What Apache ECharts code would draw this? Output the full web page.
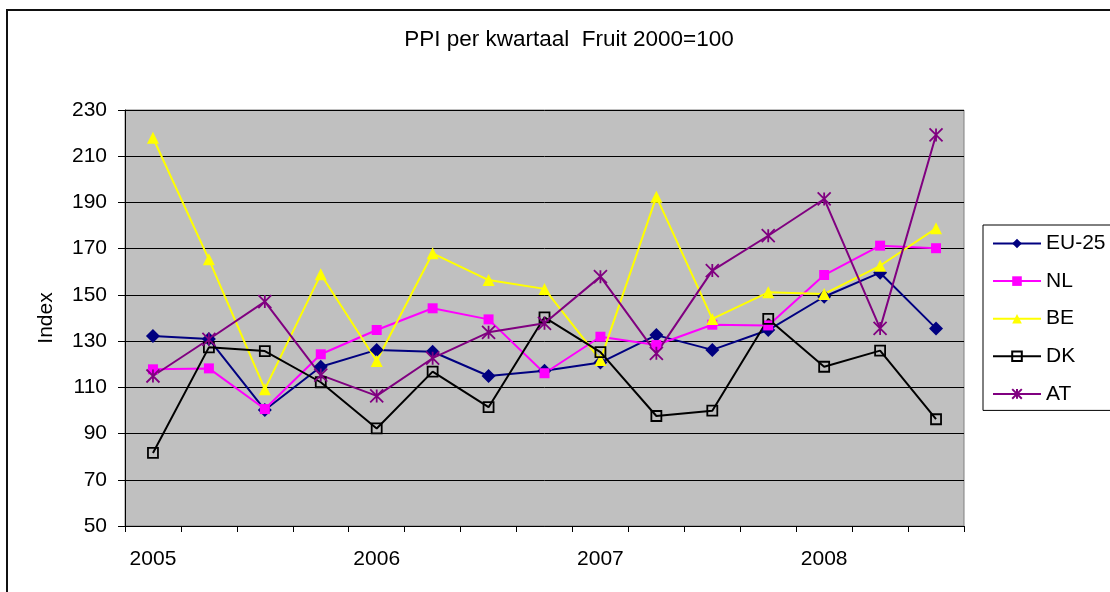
<!DOCTYPE html>
<html>
<head>
<meta charset="utf-8">
<script src="https://cdn.jsdelivr.net/npm/echarts@6/dist/echarts.min.js"></script>
<style>
  html, body { margin: 0; padding: 0; background: #fff; }
  #container { width: 1110px; height: 592px; }
</style>
</head>
<body>
<div id="container"></div>
<script>
// kwartalen 2005 K1 .. 2008 K3
var quarters = ['2005 K1','2005 K2','2005 K3','2005 K4',
                '2006 K1','2006 K2','2006 K3','2006 K4',
                '2007 K1','2007 K2','2007 K3','2007 K4',
                '2008 K1','2008 K2','2008 K3'];
var yTicks = [50, 230, 20]; // min, max, interval

var eu25 = [132.2, 130.9, 100.2, 118.9, 126.2, 125.4, 114.9, 117.2, 120.7, 132.6, 126.2, 134.8, 149.2, 159.6, 135.5];
var nl   = [117.8, 118.2, 100.6, 124.3, 134.8, 144.2, 139.4, 116.1, 131.9, 128.3, 137.1, 136.8, 158.6, 171.3, 170.2];
var be   = [218.0, 165.4, 109.2, 158.9, 121.4, 168.0, 156.4, 152.6, 121.8, 192.5, 139.6, 151.1, 150.4, 162.6, 178.8];
var dk   = [81.6, 127.3, 125.7, 112.2, 92.2, 116.8, 101.4, 140.3, 125.2, 97.6, 99.9, 139.6, 118.9, 125.9, 96.2];
var at   = [114.9, 130.8, 147.1, 115.3, 106.3, 122.6, 133.8, 137.7, 157.9, 124.7, 160.5, 175.6, 191.5, 135.5, 219.2];

var FONT = '"Liberation Sans", Arial, sans-serif';
var asterisk = 'path://M0,0L10,10M10,0L0,10M5,0L5,10';

function main() {
	var myChart = echarts.init(document.getElementById('container'));
	var option = {
		animation: false,
		backgroundColor: '#fff',
		textStyle: { fontFamily: FONT },
		title: {
			text: 'PPI per kwartaal  Fruit 2000=100',
			left: 564,
			textAlign: 'center',
			top: 23,
			textStyle: { fontFamily: FONT, fontSize: 22.5, fontWeight: 'normal', color: '#000' }
		},
		graphic: [{
			type: 'rect',
			shape: { x: 7, y: 10, width: 1300, height: 800 },
			style: { fill: 'none', stroke: '#111', lineWidth: 2 },
			silent: true
		}],
		legend: {
			orient: 'vertical',
			left: 983,
			top: 225,
			padding: [8, 80, 6, 9],
			backgroundColor: '#fff',
			borderColor: '#000',
			borderWidth: 1,
			itemWidth: 48,
			itemHeight: 12,
			itemGap: 16.6,
			textStyle: { fontFamily: FONT, fontSize: 21, color: '#000' },
			data: ['EU-25', 'NL', 'BE', 'DK', 'AT']
		},
		grid: {
			left: 125, top: 110, right: 146, bottom: 66,
			show: true,
			backgroundColor: '#C0C0C0',
			borderColor: '#808080',
			borderWidth: 1
		},
		xAxis: {
			type: 'category',
			data: quarters,
			boundaryGap: true,
			axisLine: { lineStyle: { color: '#000', width: 1 } },
			axisTick: { show: true, interval: 0, length: 6, lineStyle: { color: '#000' } },
			axisLabel: {
				interval: 3,
				margin: 23,
				fontSize: 21,
				color: '#000',
				fontFamily: FONT,
				formatter: function (v) { return v.slice(0, 4); }
			},
			splitLine: { show: false }
		},
		yAxis: {
			type: 'value',
			min: yTicks[0],
			max: yTicks[1],
			interval: yTicks[2],
			name: 'Index',
			nameLocation: 'middle',
			nameGap: 68,
			nameTextStyle: { fontSize: 21, color: '#000', fontFamily: FONT },
			axisLine: { show: true, lineStyle: { color: '#000', width: 1 } },
			axisTick: { show: true, length: 7, lineStyle: { color: '#000' } },
			axisLabel: { margin: 18, fontSize: 21, color: '#000', fontFamily: FONT },
			splitLine: { show: true, lineStyle: { color: '#000', width: 1 } }
		},
		series: [{
			name: 'EU-25', type: 'line', data: eu25,
			symbol: 'diamond', symbolSize: 14,
			lineStyle: { color: '#000080', width: 2 },
			itemStyle: { color: '#000080' }
		}, {
			name: 'NL', type: 'line', data: nl,
			symbol: 'rect', symbolSize: 10,
			lineStyle: { color: '#FF00FF', width: 2 },
			itemStyle: { color: '#FF00FF' }
		}, {
			name: 'BE', type: 'line', data: be,
			symbol: 'triangle', symbolSize: 12,
			lineStyle: { color: '#FFFF00', width: 2 },
			itemStyle: { color: '#FFFF00' }
		}, {
			name: 'DK', type: 'line', data: dk,
			symbol: 'rect', symbolSize: 10,
			lineStyle: { color: '#000', width: 2 },
			itemStyle: { color: 'rgba(0,0,0,0)', borderColor: '#000', borderWidth: 1.8 }
		}, {
			name: 'AT', type: 'line', data: at,
			symbol: asterisk, symbolSize: 13,
			lineStyle: { color: '#800080', width: 2 },
			itemStyle: { color: 'rgba(0,0,0,0)', borderColor: '#800080', borderWidth: 1.8 }
		}]
	};
	myChart.setOption(option, true);
}
main();
</script>
</body>
</html>
